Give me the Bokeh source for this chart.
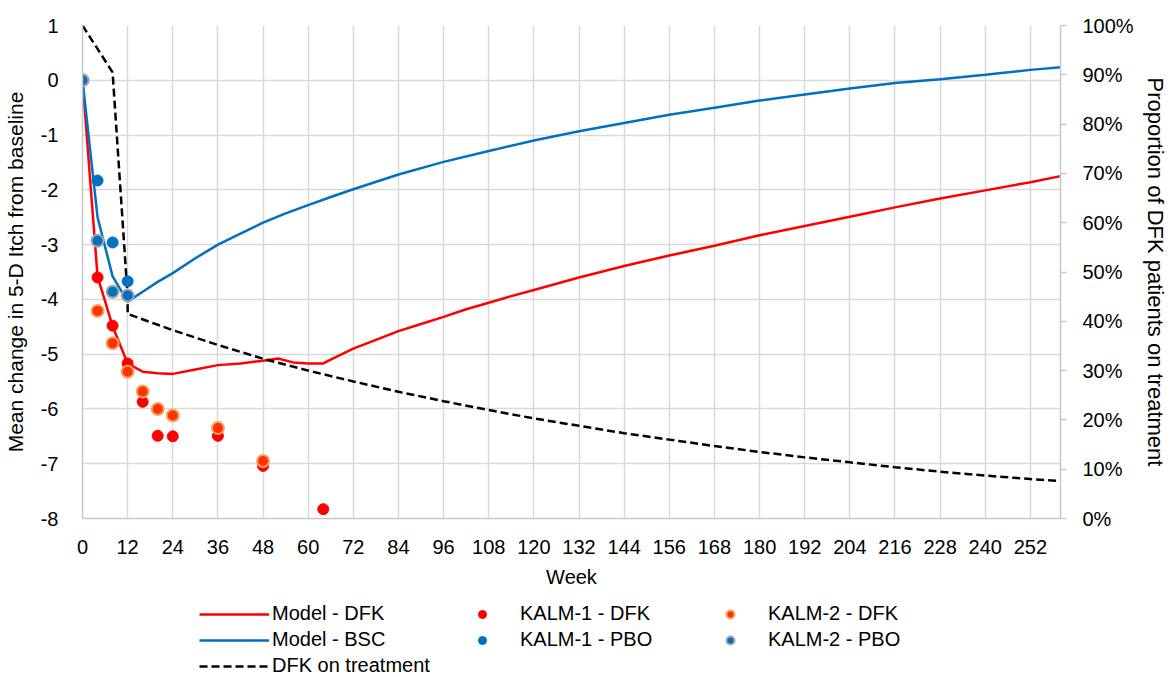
from bokeh.plotting import figure
from bokeh.layouts import column
from bokeh.models import (Range1d, LinearAxis, FixedTicker, NumeralTickFormatter,
                          CustomJSTickFormatter, Legend, LegendItem)
from bokeh.embed import file_html
from bokeh.resources import INLINE

FONT = "Liberation Sans"

# ---- data ----
model_dfk_weeks = [0, 4, 8, 12, 16, 20, 24, 30, 36, 42, 48, 52, 56, 60, 64, 68, 72, 78, 84, 90,
                   96, 102, 108, 114, 120, 132, 144, 156, 168, 180, 192, 204, 216, 228, 240, 252, 260]
model_dfk = [0, -3.58, -4.49, -5.17, -5.32, -5.35, -5.36, -5.28, -5.2, -5.17, -5.12, -5.08, -5.15,
             -5.17, -5.17, -5.03, -4.9, -4.74, -4.58, -4.45, -4.32, -4.18, -4.06, -3.94, -3.83,
             -3.6, -3.39, -3.2, -3.02, -2.83, -2.66, -2.49, -2.32, -2.16, -2.01, -1.86, -1.75]

model_bsc_weeks = [0, 4, 8, 12, 16, 20, 24, 30, 36, 42, 48, 54, 60, 66, 72, 84, 96, 108, 120,
                   132, 144, 156, 168, 180, 192, 204, 216, 228, 240, 252, 260]
model_bsc = [0, -2.5, -3.58, -4.04, -3.86, -3.68, -3.52, -3.25, -3.0, -2.8, -2.6, -2.43, -2.28,
             -2.13, -1.99, -1.72, -1.49, -1.29, -1.1, -0.93, -0.78, -0.63, -0.5, -0.37, -0.26,
             -0.15, -0.05, 0.02, 0.1, 0.19, 0.24]

on_trt_weeks = [0, 8, 12, 12, 24, 36, 48, 60, 72, 84, 96, 108, 120, 132, 144, 156, 168, 180,
                192, 204, 216, 228, 240, 252, 260]
on_trt = [1.0, 0.905, 0.45, 0.415, 0.382, 0.352, 0.324, 0.30, 0.278, 0.257, 0.238, 0.22, 0.203,
          0.188, 0.173, 0.16, 0.147, 0.135, 0.124, 0.114, 0.104, 0.095, 0.087, 0.08, 0.076]

kalm1_dfk_weeks = [0, 4, 8, 12, 16, 20, 24, 36, 48, 64]
kalm1_dfk = [0, -3.6, -4.48, -5.17, -5.87, -6.49, -6.5, -6.49, -7.04, -7.83]

kalm2_dfk_weeks = [0, 4, 8, 12, 16, 20, 24, 36, 48]
kalm2_dfk = [0, -4.21, -4.8, -5.32, -5.68, -6.0, -6.12, -6.35, -6.95]

kalm1_pbo_weeks = [0, 4, 8, 12]
kalm1_pbo = [0, -1.83, -2.96, -3.67]

kalm2_pbo_weeks = [0, 4, 8, 12]
kalm2_pbo = [0, -2.93, -3.86, -3.93]

x_ticks = list(range(0, 253, 12))
y_ticks = list(range(-8, 2))
pct_ticks = [i / 10 for i in range(0, 11)]

# ---- styles ----
S_DFK = dict(line_color="#FF0000", line_width=2.5)
S_BSC = dict(line_color="#0070C0", line_width=2.5)
S_TRT = dict(line_color="#000000", line_width=2.5, line_dash="8 4")
S_K1D = dict(size=11, fill_color="#FF0000", line_color="#FF0000")
S_K2D = dict(size=12, fill_color="#FF3300", line_color="#F4A460", line_width=2)
S_K1P = dict(size=11, fill_color="#0070C0", line_color="#0070C0")
S_K2P = dict(size=12, fill_color="#0070C0", line_color="#A6A6A6", line_width=2)

# ---- main figure ----
p = figure(width=1170, height=595, output_backend="svg", toolbar_location=None,
           x_range=Range1d(0, 260), y_range=Range1d(-8, 1),
           min_border_left=80, min_border_right=104, min_border_top=25, min_border_bottom=77)
p.outline_line_color = None
p.extra_y_ranges = {"pct": Range1d(0, 1)}

grid_col = "#D9D9D9"
axis_col = "#C8C8C8"

p.xgrid.ticker = FixedTicker(ticks=x_ticks)
p.ygrid.ticker = FixedTicker(ticks=y_ticks)
for g in (p.xgrid, p.ygrid):
    g.grid_line_color = grid_col
    g.grid_line_width = 1.5

xa = p.xaxis[0]
xa.ticker = FixedTicker(ticks=x_ticks)
xa.axis_label = "Week"
ya = p.yaxis[0]
ya.ticker = FixedTicker(ticks=y_ticks)
ya.formatter = CustomJSTickFormatter(code="return String(tick);")
ya.axis_label = "Mean change in 5-D Itch from baseline"

ra = LinearAxis(y_range_name="pct", ticker=FixedTicker(ticks=pct_ticks),
                formatter=NumeralTickFormatter(format="0%"),
                axis_label="Proportion of DFK patients on treatment")
p.add_layout(ra, "right")

for ax in (xa, ya, ra):
    ax.axis_line_color = axis_col
    ax.axis_line_width = 1.5
    ax.major_tick_line_color = axis_col
    ax.major_tick_line_width = 1.5
    ax.major_tick_in = 0
    ax.major_tick_out = 0
    ax.minor_tick_line_color = None
    ax.major_label_text_font = FONT
    ax.major_label_text_font_size = "20px"
    ax.major_label_text_color = "#000000"
    ax.axis_label_text_font = FONT
    ax.axis_label_text_font_size = "20px"
    ax.axis_label_text_font_style = "normal"
    ax.axis_label_text_color = "#000000"

ya.axis_label_text_font_size = "21px"
ra.axis_label_text_font_size = "22px"
ra.major_tick_out = 6
ra.major_label_standoff = 16
ra.axis_label_standoff = 6
ya.major_label_standoff = 24
ya.axis_label_standoff = 11
xa.major_label_standoff = 21
xa.axis_label_standoff = 9

p.line(model_dfk_weeks, model_dfk, **S_DFK)
p.line(model_bsc_weeks, model_bsc, **S_BSC)
p.line(on_trt_weeks, on_trt, y_range_name="pct", **S_TRT)
p.scatter(kalm1_dfk_weeks, kalm1_dfk, **S_K1D)
p.scatter(kalm2_dfk_weeks, kalm2_dfk, **S_K2D)
p.scatter(kalm1_pbo_weeks, kalm1_pbo, **S_K1P)
p.scatter(kalm2_pbo_weeks, kalm2_pbo, **S_K2P)

# ---- legend strip: same series drawn outside its (far-away) ranges, only the legend shows ----
lg = figure(width=1170, height=82, output_backend="svg", toolbar_location=None,
            x_range=Range1d(1000, 1001), y_range=Range1d(1000, 1001),
            x_axis_location=None, y_axis_location=None,
            min_border=0, min_border_left=0, min_border_right=0,
            min_border_top=0, min_border_bottom=0)
lg.grid.visible = False
lg.outline_line_color = None

l_dfk = lg.line(model_dfk_weeks, model_dfk, **S_DFK)
l_bsc = lg.line(model_bsc_weeks, model_bsc, **S_BSC)
l_trt = lg.line(on_trt_weeks, on_trt, **S_TRT)
l_k1d = lg.scatter(kalm1_dfk_weeks, kalm1_dfk, **S_K1D)
l_k2d = lg.scatter(kalm2_dfk_weeks, kalm2_dfk, **S_K2D)
l_k1p = lg.scatter(kalm1_pbo_weeks, kalm1_pbo, **S_K1P)
l_k2p = lg.scatter(kalm2_pbo_weeks, kalm2_pbo, **S_K2P)

legend = Legend(items=[
    LegendItem(label="Model - DFK", renderers=[l_dfk]),
    LegendItem(label="KALM-1 - DFK", renderers=[l_k1d]),
    LegendItem(label="KALM-2 - DFK", renderers=[l_k2d]),
    LegendItem(label="Model - BSC", renderers=[l_bsc]),
    LegendItem(label="KALM-1 - PBO", renderers=[l_k1p]),
    LegendItem(label="KALM-2 - PBO", renderers=[l_k2p]),
    LegendItem(label="DFK on treatment", renderers=[l_trt]),
], orientation="horizontal", ncols=3, location=(117, 0))
legend.border_line_color = None
legend.background_fill_alpha = 0
legend.label_text_font = FONT
legend.label_text_font_size = "20px"
legend.label_text_color = "#000000"
legend.glyph_width = 70
legend.glyph_height = 20
legend.label_height = 20
legend.label_width = 172
legend.label_standoff = 3
legend.spacing = 3
legend.padding = 0
legend.margin = 0
lg.add_layout(legend, "center")

layout = column(p, lg, spacing=0)
open("out.html", "w").write(file_html(layout, INLINE))
